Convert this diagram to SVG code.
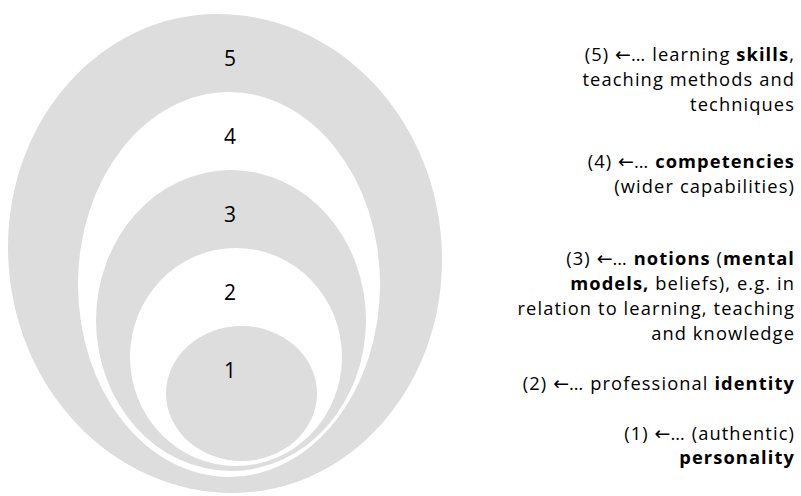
<svg xmlns="http://www.w3.org/2000/svg" width="801" height="496" viewBox="0 0 801 496">
<style>
.g{fill:#dddddd}
.w{fill:#ffffff}
.num{font-family:"Open Sans","Liberation Sans",sans-serif;font-size:21px;fill:#000;text-anchor:middle}
.lab{font-family:"Open Sans","Liberation Sans",sans-serif;font-size:18.3px;letter-spacing:1.1px;fill:#000;text-anchor:end}
.b{font-weight:bold}
.ar{font-family:"DejaVu Sans",sans-serif;font-size:19px;letter-spacing:0}
</style>
<rect width="801" height="496" fill="#ffffff"/>
<g id="level5">
<path class="g" d="M217,14 C341,14 442,124 442,260 C442,389 348,493 233,493 C109,493 8,383 8,247 C8,118 102,14 217,14 Z"/>
<text class="num" x="230" y="66">5</text>
</g>
<g id="level4">
<ellipse class="w" cx="229" cy="284.5" rx="151" ry="192.5"/>
<text class="num" x="230" y="144">4</text>
</g>
<g id="level3">
<ellipse class="g" cx="231" cy="320.5" rx="135" ry="150.5"/>
<text class="num" x="230" y="222">3</text>
</g>
<g id="level2">
<ellipse class="w" cx="236" cy="357" rx="106" ry="109"/>
<text class="num" x="230" y="300">2</text>
</g>
<g id="level1">
<ellipse class="g" cx="241.5" cy="393.5" rx="75.5" ry="67.5"/>
<text class="num" x="230" y="378">1</text>
</g>
<g id="connectors"></g>
<g id="labels">
<text class="lab" x="795" y="61">(5) <tspan class="ar">←</tspan>… learning <tspan class="b">skills</tspan>,</text>
<text class="lab" x="795" y="86">teaching methods and</text>
<text class="lab" x="795" y="111">techniques</text>
<text class="lab" x="795" y="168">(4) <tspan class="ar">←</tspan>… <tspan class="b">competencies</tspan></text>
<text class="lab" x="795" y="193">(wider capabilities)</text>
<text class="lab" x="795" y="265">(3) <tspan class="ar">←</tspan>… <tspan class="b">notions</tspan> (<tspan class="b">mental</tspan></text>
<text class="lab" x="795" y="290"><tspan class="b">models,</tspan> beliefs), e.g. in</text>
<text class="lab" x="795" y="315">relation to learning, teaching</text>
<text class="lab" x="795" y="340">and knowledge</text>
<text class="lab" x="795" y="390">(2) <tspan class="ar">←</tspan>… professional <tspan class="b">identity</tspan></text>
<text class="lab" x="795" y="440">(1) <tspan class="ar">←</tspan>… (authentic)</text>
<text class="lab" x="795" y="464"><tspan class="b">personality</tspan></text>
</g>
</svg>
